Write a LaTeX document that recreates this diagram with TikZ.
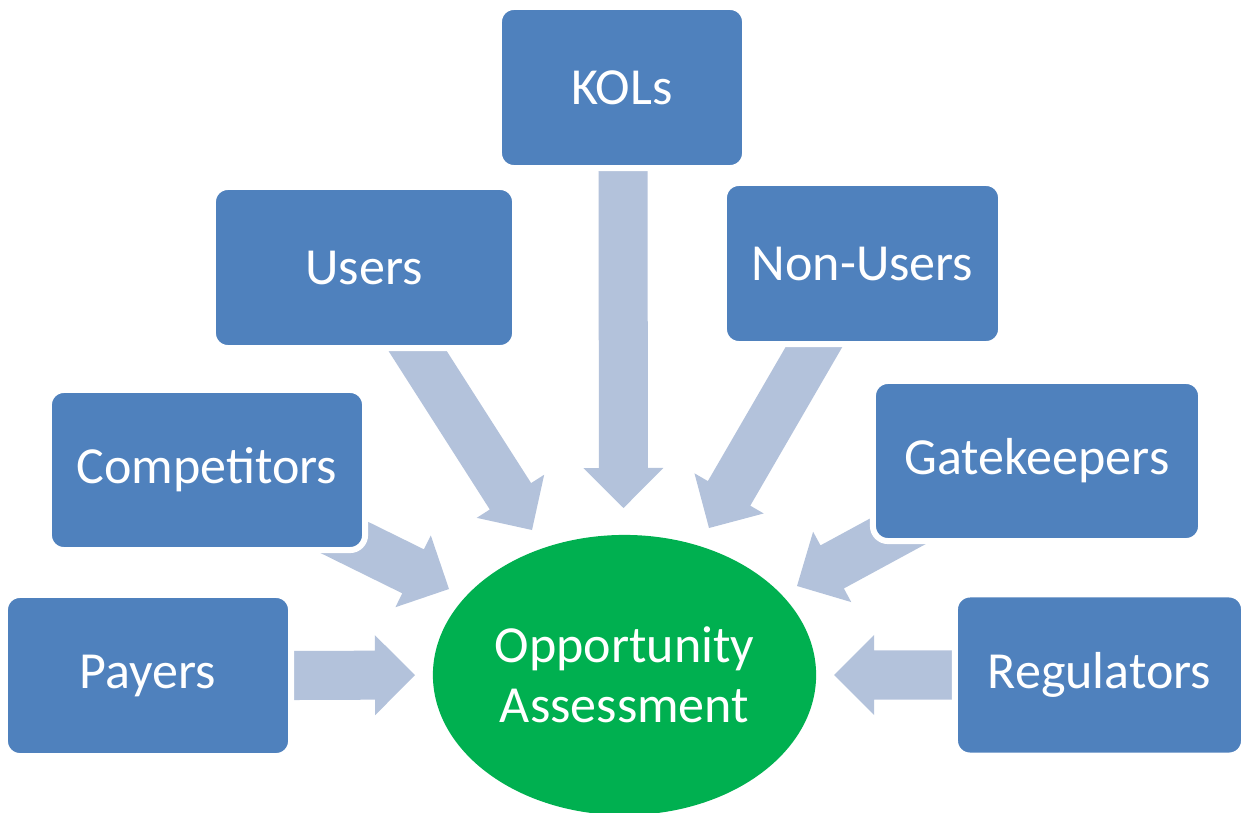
\documentclass[tikz,border=0pt]{standalone}
\usepackage{fontspec}
\setmainfont{Carlito}
\usetikzlibrary{calc,shapes.geometric}

\definecolor{boxblue}{HTML}{4F81BD}
\definecolor{arrowblue}{HTML}{B3C2DB}
\definecolor{hubgreen}{HTML}{00B050}

\tikzset{
  party/.style={draw=white, line width=0.06cm, fill=boxblue, rounded corners=0.15cm,
    text=white, font=\fontsize{14.8}{17}\selectfont, inner sep=0pt,
    minimum height=1.61cm},
  feed/.style={fill=arrowblue, draw=none},
  hub/.style={ellipse, fill=hubgreen, draw=none, text=white, align=center,
    font=\fontsize{14.8}{17.07}\selectfont, inner sep=0pt,
    minimum width=3.83cm, minimum height=2.80cm}
}

% block arrow from a tail point #1 to a tip #2
\newcommand\feedarrow[2]{%
  \coordinate (fb) at ($(#2)!0.4cm!(#1)$);
  \fill[feed] ($(#1)!0.245cm!90:(#2)$) -- ($(fb)!0.245cm!90:(#2)$)
    -- ($(fb)!0.4cm!90:(#2)$) -- (#2) -- ($(fb)!0.4cm!-90:(#2)$)
    -- ($(fb)!0.245cm!-90:(#2)$) -- ($(#1)!0.245cm!-90:(#2)$) -- cycle;
}

\begin{document}
\begin{tikzpicture}[x=0.01cm, y=-0.01cm]
  \useasboundingbox (0,0) rectangle (1243,812);
  \clip (0,0) rectangle (1243,812);

  % central hub
  \node[hub] (hub) at (624.5,675) {Opportunity\\Assessment};

  % arrow ends
  \coordinate (kolsTail) at (623,170);    \coordinate (kolsTip) at (623.5,508);
  \coordinate (usersTail) at (397.8,320); \coordinate (usersTip) at (532,530);
  \coordinate (nonTail) at (829.6,320);   \coordinate (nonTip) at (709,528);
  \coordinate (compTail) at (305.5,518.3);\coordinate (compTip) at (449,589);
  \coordinate (gateTail) at (937.6,509.7);\coordinate (gateTip) at (797,586);
  \coordinate (payTail) at (293,675.5);   \coordinate (payTip) at (415,675);
  \coordinate (regTail) at (953,675);     \coordinate (regTip) at (834,675);

  \feedarrow{kolsTail}{kolsTip}
  \feedarrow{usersTail}{usersTip}
  \feedarrow{nonTail}{nonTip}
  \feedarrow{compTail}{compTip}
  \feedarrow{gateTail}{gateTip}
  \feedarrow{payTail}{payTip}
  \feedarrow{regTail}{regTip}

  % stakeholder boxes
  \node[party, minimum width=2.46cm] (kols) at (622,87.5) {KOLs};
  \node[party, minimum width=3.02cm] (users) at (364,267.5) {Users};
  \node[party, minimum width=2.77cm] (nonusers) at (862.5,263.5) {Non-Users};
  \node[party, minimum width=3.16cm, minimum height=1.60cm] (competitors) at (207,470) {Competitors};
  \node[party, minimum width=3.28cm, minimum height=1.60cm] (gatekeepers) at (1037,461) {Gatekeepers};
  \node[party, minimum width=2.86cm] (payers) at (148,675.5) {Payers};
  \node[party, minimum width=2.89cm] (regulators) at (1099.5,675) {Regulators};
\end{tikzpicture}
\end{document}
